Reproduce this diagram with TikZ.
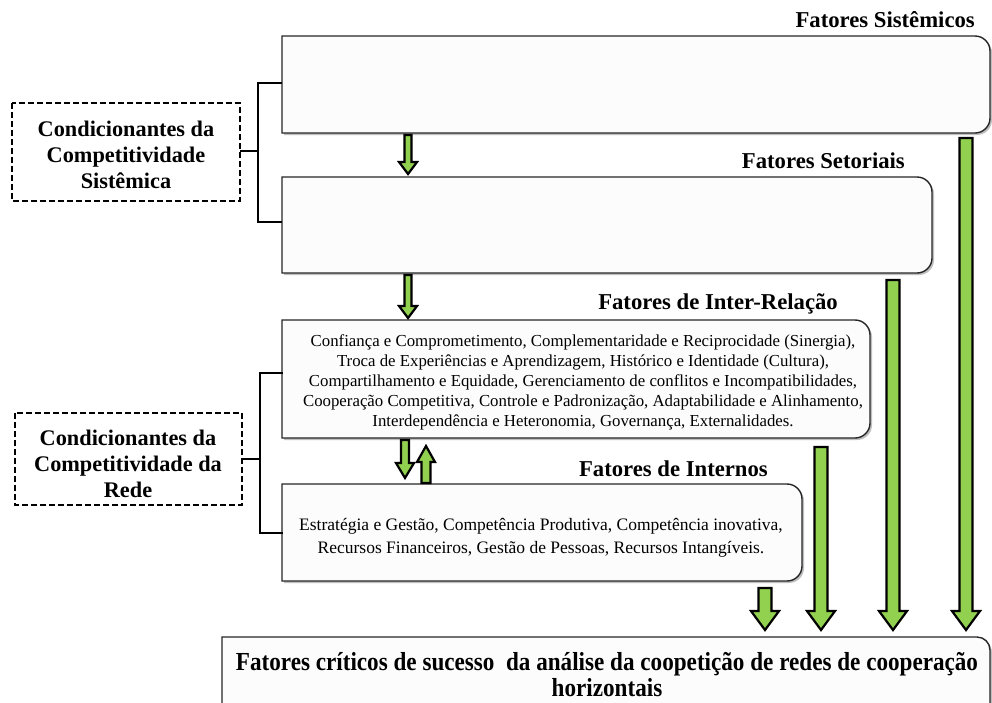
\documentclass[tikz,border=0pt]{standalone}
\usepackage{fontspec}
\setmainfont{Liberation Serif}
\newfontfamily\condfont{Liberation Serif}[FakeStretch=0.89]
\definecolor{arrowgreen}{HTML}{92D050}
\definecolor{boxfill}{HTML}{FCFCFC}
\tikzset{
  boxline/.style={draw=black!85, line width=1.4pt, fill=boxfill},
  boxshadow/.style={fill=black!25, draw=none},
  blockarrow/.style={draw=black, line width=2.2pt, fill=arrowgreen, line join=miter},
  dashbox/.style={draw=black, line width=2.2pt, dash pattern=on 6pt off 3pt},
  bracket/.style={draw=black, line width=1.8pt},
  titletext/.style={font=\bfseries\fontsize{22.7}{24}\selectfont, inner sep=0pt},
  condtext/.style={font=\bfseries\fontsize{22.3}{26}\selectfont, align=center, inner sep=0pt},
  bodytext/.style={font=\fontsize{16.8}{20}\selectfont, align=center, inner sep=0pt},
}
% right-rounded box: x1,y1,x2,y2 (y downward)
\newcommand\rbox[4]{%
  \fill[boxshadow] (#1+2,#2+2) -- (#3-13,#2+2) arc[start angle=-90,end angle=0,radius=15] -- (#3+2,#4-13) arc[start angle=0,end angle=90,radius=15] -- (#1+2,#4+2) -- cycle;
  \path[boxline] (#1,#2) -- (#3-15,#2) arc[start angle=-90,end angle=0,radius=15] -- (#3,#4-15) arc[start angle=0,end angle=90,radius=15] -- (#1,#4) -- cycle;}
\newcommand\dnarrow[6]{% x, ytop, ytip, shaft half, head half, head length
  \draw[blockarrow] (#1-#4,#2) -- (#1+#4,#2) -- (#1+#4,#3-#6) -- (#1+#5,#3-#6) -- (#1,#3) -- (#1-#5,#3-#6) -- (#1-#4,#3-#6) -- cycle;}
\newcommand\uparrowblk[6]{% x, ytip, ybottom, shaft half, head half, head length
  \draw[blockarrow] (#1-#4,#3) -- (#1+#4,#3) -- (#1+#4,#2+#6) -- (#1+#5,#2+#6) -- (#1,#2) -- (#1-#5,#2+#6) -- (#1-#4,#2+#6) -- cycle;}
\begin{document}
\begin{tikzpicture}[x=1pt,y=1pt,yscale=-1]
\useasboundingbox[fill=white] (0,0) rectangle (992,702);

% boxes
\rbox{282}{36}{990}{133}
\rbox{282}{177}{932}{273}
\rbox{282}{320}{870}{438}
\rbox{282}{484}{802}{581}
% bottom box
\fill[boxshadow] (224,639) -- (979,639) arc[start angle=-90,end angle=0,radius=13] -- (994,705) -- (224,705) -- cycle;
\path[boxline] (222,637) -- (977,637) arc[start angle=-90,end angle=0,radius=13] -- (990,704) -- (222,704) -- cycle;

% titles
\node[titletext, anchor=base east] (tsis) at (975,27) {Fatores Sistêmicos};
\node[titletext, anchor=base east] (tset) at (905,168) {Fatores Setoriais};
\node[titletext, anchor=base east] (tint) at (838,309) {Fatores de Inter-Relação};
\node[titletext, anchor=base east] (tinn) at (768,476) {Fatores de Internos};

% body texts
\node[bodytext] (rel) at (583,382) {Confiança e Comprometimento, Complementaridade e Reciprocidade (Sinergia),\\
Troca de Experiências e Aprendizagem, Histórico e Identidade (Cultura),\\
Compartilhamento e Equidade, Gerenciamento de conflitos e Incompatibilidades,\\
Cooperação Competitiva, Controle e Padronização, Adaptabilidade e Alinhamento,\\
Interdependência e Heteronomia, Governança, Externalidades.};
\node[bodytext, font=\fontsize{17.5}{23}\selectfont] (inn) at (541,538) {Estratégia e Gestão, Competência Produtiva, Competência inovativa,\\
Recursos Financeiros, Gestão de Pessoas, Recursos Intangíveis.};
\node[font=\condfont\bfseries\fontsize{26}{26}\selectfont, align=center, inner sep=0pt] (fcs) at (607,675) {Fatores críticos de sucesso\ \ da análise da coopetição de redes de cooperação\\horizontais};

% dashed boxes
\draw[dashbox] (12,103) rectangle (240,201);
\node[condtext] (c1) at (126,155) {Condicionantes da\\Competitividade\\Sistêmica};
\draw[dashbox] (15,413) rectangle (242,505);
\node[condtext] (c2) at (128,464) {Condicionantes da\\Competitividade da\\Rede};

% brackets
\draw[bracket] (282,83) -- (258,83) -- (258,222) -- (282,222);
\draw[bracket] (240,151) -- (258,151);
\draw[bracket] (283,373) -- (260,373) -- (260,533) -- (283,533);
\draw[bracket] (242,459) -- (260,459);

% small arrows
\dnarrow{408}{135}{174}{3.5}{9}{12}
\dnarrow{408}{275}{318}{3.5}{9}{12}
\dnarrow{405}{440}{478}{4}{9}{15}
\uparrowblk{426}{446}{483}{4.5}{9}{16}

% long arrows to bottom box
\dnarrow{765}{588}{630}{6.5}{14}{19}
\dnarrow{821}{447}{630}{6.5}{14}{19}
\dnarrow{893}{280}{630}{6.5}{14}{19}
\dnarrow{966}{138}{630}{6.5}{14}{19}
\end{tikzpicture}
\end{document}
